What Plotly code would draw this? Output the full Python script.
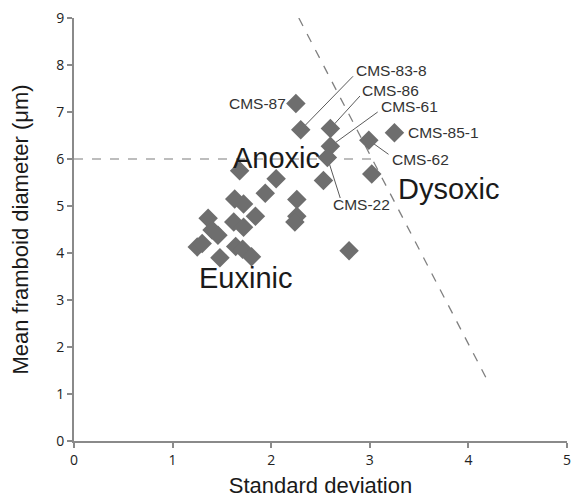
import plotly.graph_objects as go

# ---- data ----
std_dev = [2.25, 2.30, 2.60, 2.60, 2.57, 2.53, 2.99, 3.25, 3.02, 2.26, 2.26, 2.24, 2.79,
           1.68, 2.05, 1.94, 1.63, 1.72, 1.84, 1.36, 1.62, 1.72, 1.40, 1.46, 1.25, 1.30,
           1.64, 1.71, 1.80, 1.48]
mean_diam = [7.18, 6.62, 6.65, 6.27, 6.03, 5.54, 6.40, 6.56, 5.68, 5.14, 4.78, 4.66, 4.05,
             5.75, 5.58, 5.27, 5.15, 5.04, 4.78, 4.74, 4.66, 4.55, 4.49, 4.38, 4.13, 4.20,
             4.14, 4.08, 3.92, 3.90]

# labelled samples: name, point (x, y), label position (x, y), leader end (x, y), anchor
label_names = ["CMS-87", "CMS-83-8", "CMS-86", "CMS-61", "CMS-85-1", "CMS-62", "CMS-22"]
label_pt_x = [2.25, 2.30, 2.60, 2.60, 3.25, 2.99, 2.57]
label_pt_y = [7.18, 6.62, 6.65, 6.27, 6.56, 6.40, 6.03]
label_tx = [2.17, 2.84, 2.90, 3.09, 3.37, 3.20, 2.92]
label_ty = [7.18, 7.89, 7.45, 7.11, 6.56, 5.98, 5.04]
leader_x = [None, 2.83, 2.90, 3.08, None, 3.19, 2.70]
leader_y = [None, 7.76, 7.34, 7.00, None, 6.10, 5.17]
label_anchor = ["right", "left", "left", "left", "left", "left", "center"]

region_names = ["Anoxic", "Dysoxic", "Euxinic"]
region_x = [2.05, 3.80, 1.74]
region_y = [6.03, 5.36, 3.46]

threshold_y = 6.0
threshold_x_end = 3.04
boundary_x = [2.28, 4.18]
boundary_y = [9.0, 1.34]

x_ticks = [0, 1, 2, 3, 4, 5]
y_ticks = [0, 1, 2, 3, 4, 5, 6, 7, 8, 9]

fig = go.Figure()

# dashed threshold lines
fig.add_trace(go.Scatter(x=[0, threshold_x_end], y=[threshold_y, threshold_y], mode="lines",
                         line=dict(color="#a8a8a8", width=1.5, dash="dash"),
                         hoverinfo="skip", showlegend=False))
fig.add_trace(go.Scatter(x=boundary_x, y=boundary_y, mode="lines",
                         line=dict(color="#808080", width=1.3, dash="dash"),
                         hoverinfo="skip", showlegend=False))

# leader lines
for px, py, lx, ly in zip(label_pt_x, label_pt_y, leader_x, leader_y):
    if lx is None:
        continue
    fig.add_trace(go.Scatter(x=[px, lx], y=[py, ly], mode="lines",
                             line=dict(color="#5a5a5a", width=1),
                             hoverinfo="skip", showlegend=False))

# data points
fig.add_trace(go.Scatter(x=std_dev, y=mean_diam, mode="markers",
                         marker=dict(symbol="diamond", size=15, color="#6e6e6e",
                                     line=dict(width=0)),
                         showlegend=False))

for name, tx, ty, anc in zip(label_names, label_tx, label_ty, label_anchor):
    fig.add_annotation(x=tx, y=ty, text=name, showarrow=False, xanchor=anc, yanchor="middle",
                       font=dict(family="Liberation Sans", size=15.5, color="#333333"))

for name, rx, ry in zip(region_names, region_x, region_y):
    fig.add_annotation(x=rx, y=ry, text=name, showarrow=False, xanchor="center", yanchor="middle",
                       font=dict(family="Liberation Sans", size=29, color="#1a1a1a"))

fig.update_layout(
    width=575, height=490,
    margin=dict(l=66, r=16, t=10, b=57),
    paper_bgcolor="white", plot_bgcolor="white",
    font=dict(family="Liberation Sans", color="#222222"),
)
fig.update_xaxes(range=[0, 5], tickvals=x_ticks, showgrid=False, zeroline=False,
                 automargin=False, ticklabeloverflow="allow",
                 showline=True, linecolor="#8a8a8a", linewidth=2,
                 ticks="outside", ticklen=5, tickcolor="#8a8a8a", tickwidth=1.5,
                 tickfont=dict(family="Open Sans", size=14, color="#222222"),
                 title=dict(text="Standard deviation", standoff=10,
                            font=dict(family="Liberation Sans", size=22, color="#1a1a1a")))
fig.update_yaxes(range=[0, 9], tickvals=y_ticks, showgrid=False, zeroline=False,
                 automargin=False, ticklabeloverflow="allow",
                 showline=True, linecolor="#8a8a8a", linewidth=2,
                 ticks="outside", ticklen=5, tickcolor="#8a8a8a", tickwidth=1.5,
                 tickfont=dict(family="Open Sans", size=14, color="#222222"),
                 title=dict(text="Mean framboid diameter (μm)", standoff=23,
                            font=dict(family="Liberation Sans", size=22, color="#1a1a1a")))

fig.write_html("out.html")
